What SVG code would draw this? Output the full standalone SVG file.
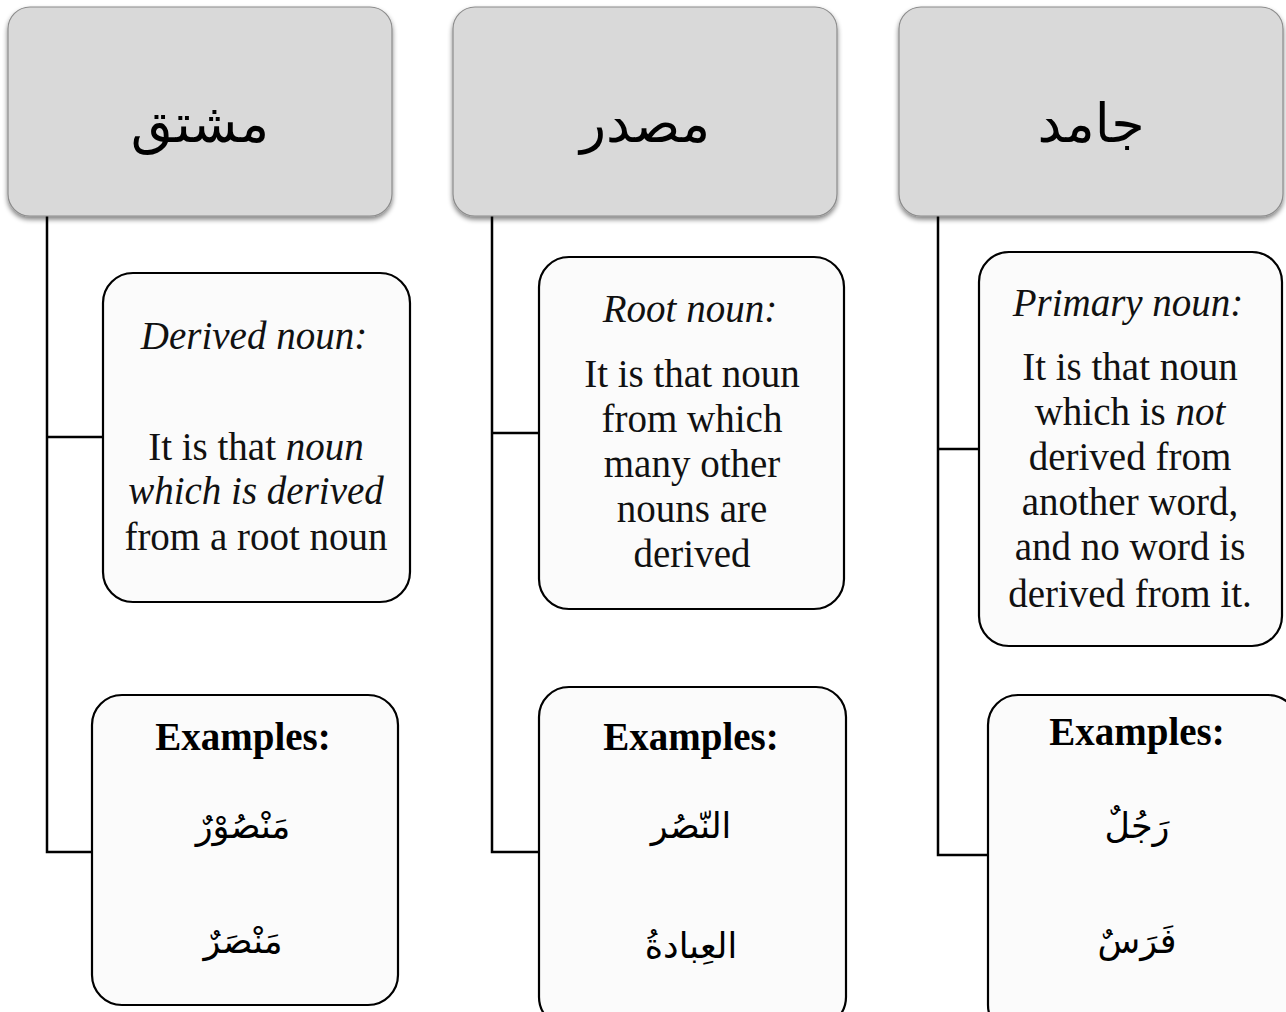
<svg xmlns="http://www.w3.org/2000/svg" width="1286" height="1012" viewBox="0 0 1286 1012">
<defs>
<filter id="sh" x="-10%" y="-10%" width="120%" height="130%">
<feGaussianBlur in="SourceAlpha" stdDeviation="2.5"/>
<feOffset dx="0" dy="3" result="b"/>
<feComponentTransfer><feFuncA type="linear" slope="0.5"/></feComponentTransfer>
<feMerge><feMergeNode/><feMergeNode in="SourceGraphic"/></feMerge>
</filter>
</defs>
<style>
.hdr{fill:#d9d9d9;stroke:#8c8c8c;stroke-width:1.2;filter:url(#sh)}
.box{fill:#fbfbfb;stroke:#000;stroke-width:2.2}
.ar{font-family:"DejaVu Sans",sans-serif;text-anchor:middle;fill:#000}
.h{font-size:54px}
.ex{font-size:35px}
.t{font-family:"Liberation Serif",serif;font-size:39px;text-anchor:middle;fill:#111}
.i{font-style:italic}
.b{font-family:"Liberation Serif",serif;font-size:39px;font-weight:bold;text-anchor:middle;fill:#000}
.ln{stroke:#000;stroke-width:2.5;fill:none}
</style>
<rect width="1286" height="1012" fill="#fff"/>
<g id="connectors">
<path class="ln" d="M47 216V852H92M47 437H103"/>
<path class="ln" d="M492 216V852H539M492 433H539"/>
<path class="ln" d="M938 216V855H988M938 449H979"/>
</g>
<g id="hdr-mushtaq"><rect class="hdr" x="8" y="7" width="384" height="209" rx="22"/><text class="ar h" x="200" y="142">مشتق</text></g>
<g id="hdr-masdar"><rect class="hdr" x="453" y="7" width="384" height="209" rx="22"/><text class="ar h" x="645" y="142">مصدر</text></g>
<g id="hdr-jamid"><rect class="hdr" x="899" y="7" width="384" height="209" rx="22"/><text class="ar h" x="1091" y="142">جامد</text></g>
<g id="desc-derived"><rect class="box" x="103" y="273" width="307" height="329" rx="30"/>
<text class="t i" x="254" y="349">Derived noun:</text>
<text class="t" x="256" y="460">It is that <tspan class="i">noun</tspan></text>
<text class="t i" x="256" y="504">which is derived</text>
<text class="t" x="256" y="550">from a root noun</text></g>
<g id="desc-root"><rect class="box" x="539" y="257" width="305" height="352" rx="30"/>
<text class="t i" x="690" y="322">Root noun:</text>
<text class="t" x="692" y="387">It is that noun</text>
<text class="t" x="692" y="432">from which</text>
<text class="t" x="692" y="477">many other</text>
<text class="t" x="692" y="522">nouns are</text>
<text class="t" x="692" y="567">derived</text></g>
<g id="desc-primary"><rect class="box" x="979" y="252" width="303" height="394" rx="30"/>
<text class="t i" x="1128" y="316">Primary noun:</text>
<text class="t" x="1130" y="380">It is that noun</text>
<text class="t" x="1130" y="425">which is <tspan class="i">not</tspan></text>
<text class="t" x="1130" y="470">derived from</text>
<text class="t" x="1130" y="515">another word,</text>
<text class="t" x="1130" y="560">and no word is</text>
<text class="t" x="1130" y="607">derived from it.</text></g>
<g id="ex-derived"><rect class="box" x="92" y="695" width="306" height="310" rx="30"/>
<text class="b" x="243" y="750">Examples:</text>
<text class="ar ex" x="243" y="838">مَنْصُوْرٌ</text>
<text class="ar ex" x="243" y="953">مَنْصَرٌ</text></g>
<g id="ex-root"><rect class="box" x="539" y="687" width="307" height="340" rx="30"/>
<text class="b" x="691" y="750">Examples:</text>
<text class="ar ex" x="691" y="838">النّصُر</text>
<text class="ar ex" x="691" y="958">العِبادةُ</text></g>
<g id="ex-primary"><rect class="box" x="988" y="695" width="310" height="340" rx="30"/>
<text class="b" x="1137" y="745">Examples:</text>
<text class="ar ex" x="1137" y="838">رَجُلٌ</text>
<text class="ar ex" x="1137" y="953">فَرَسٌ</text></g>
</svg>
